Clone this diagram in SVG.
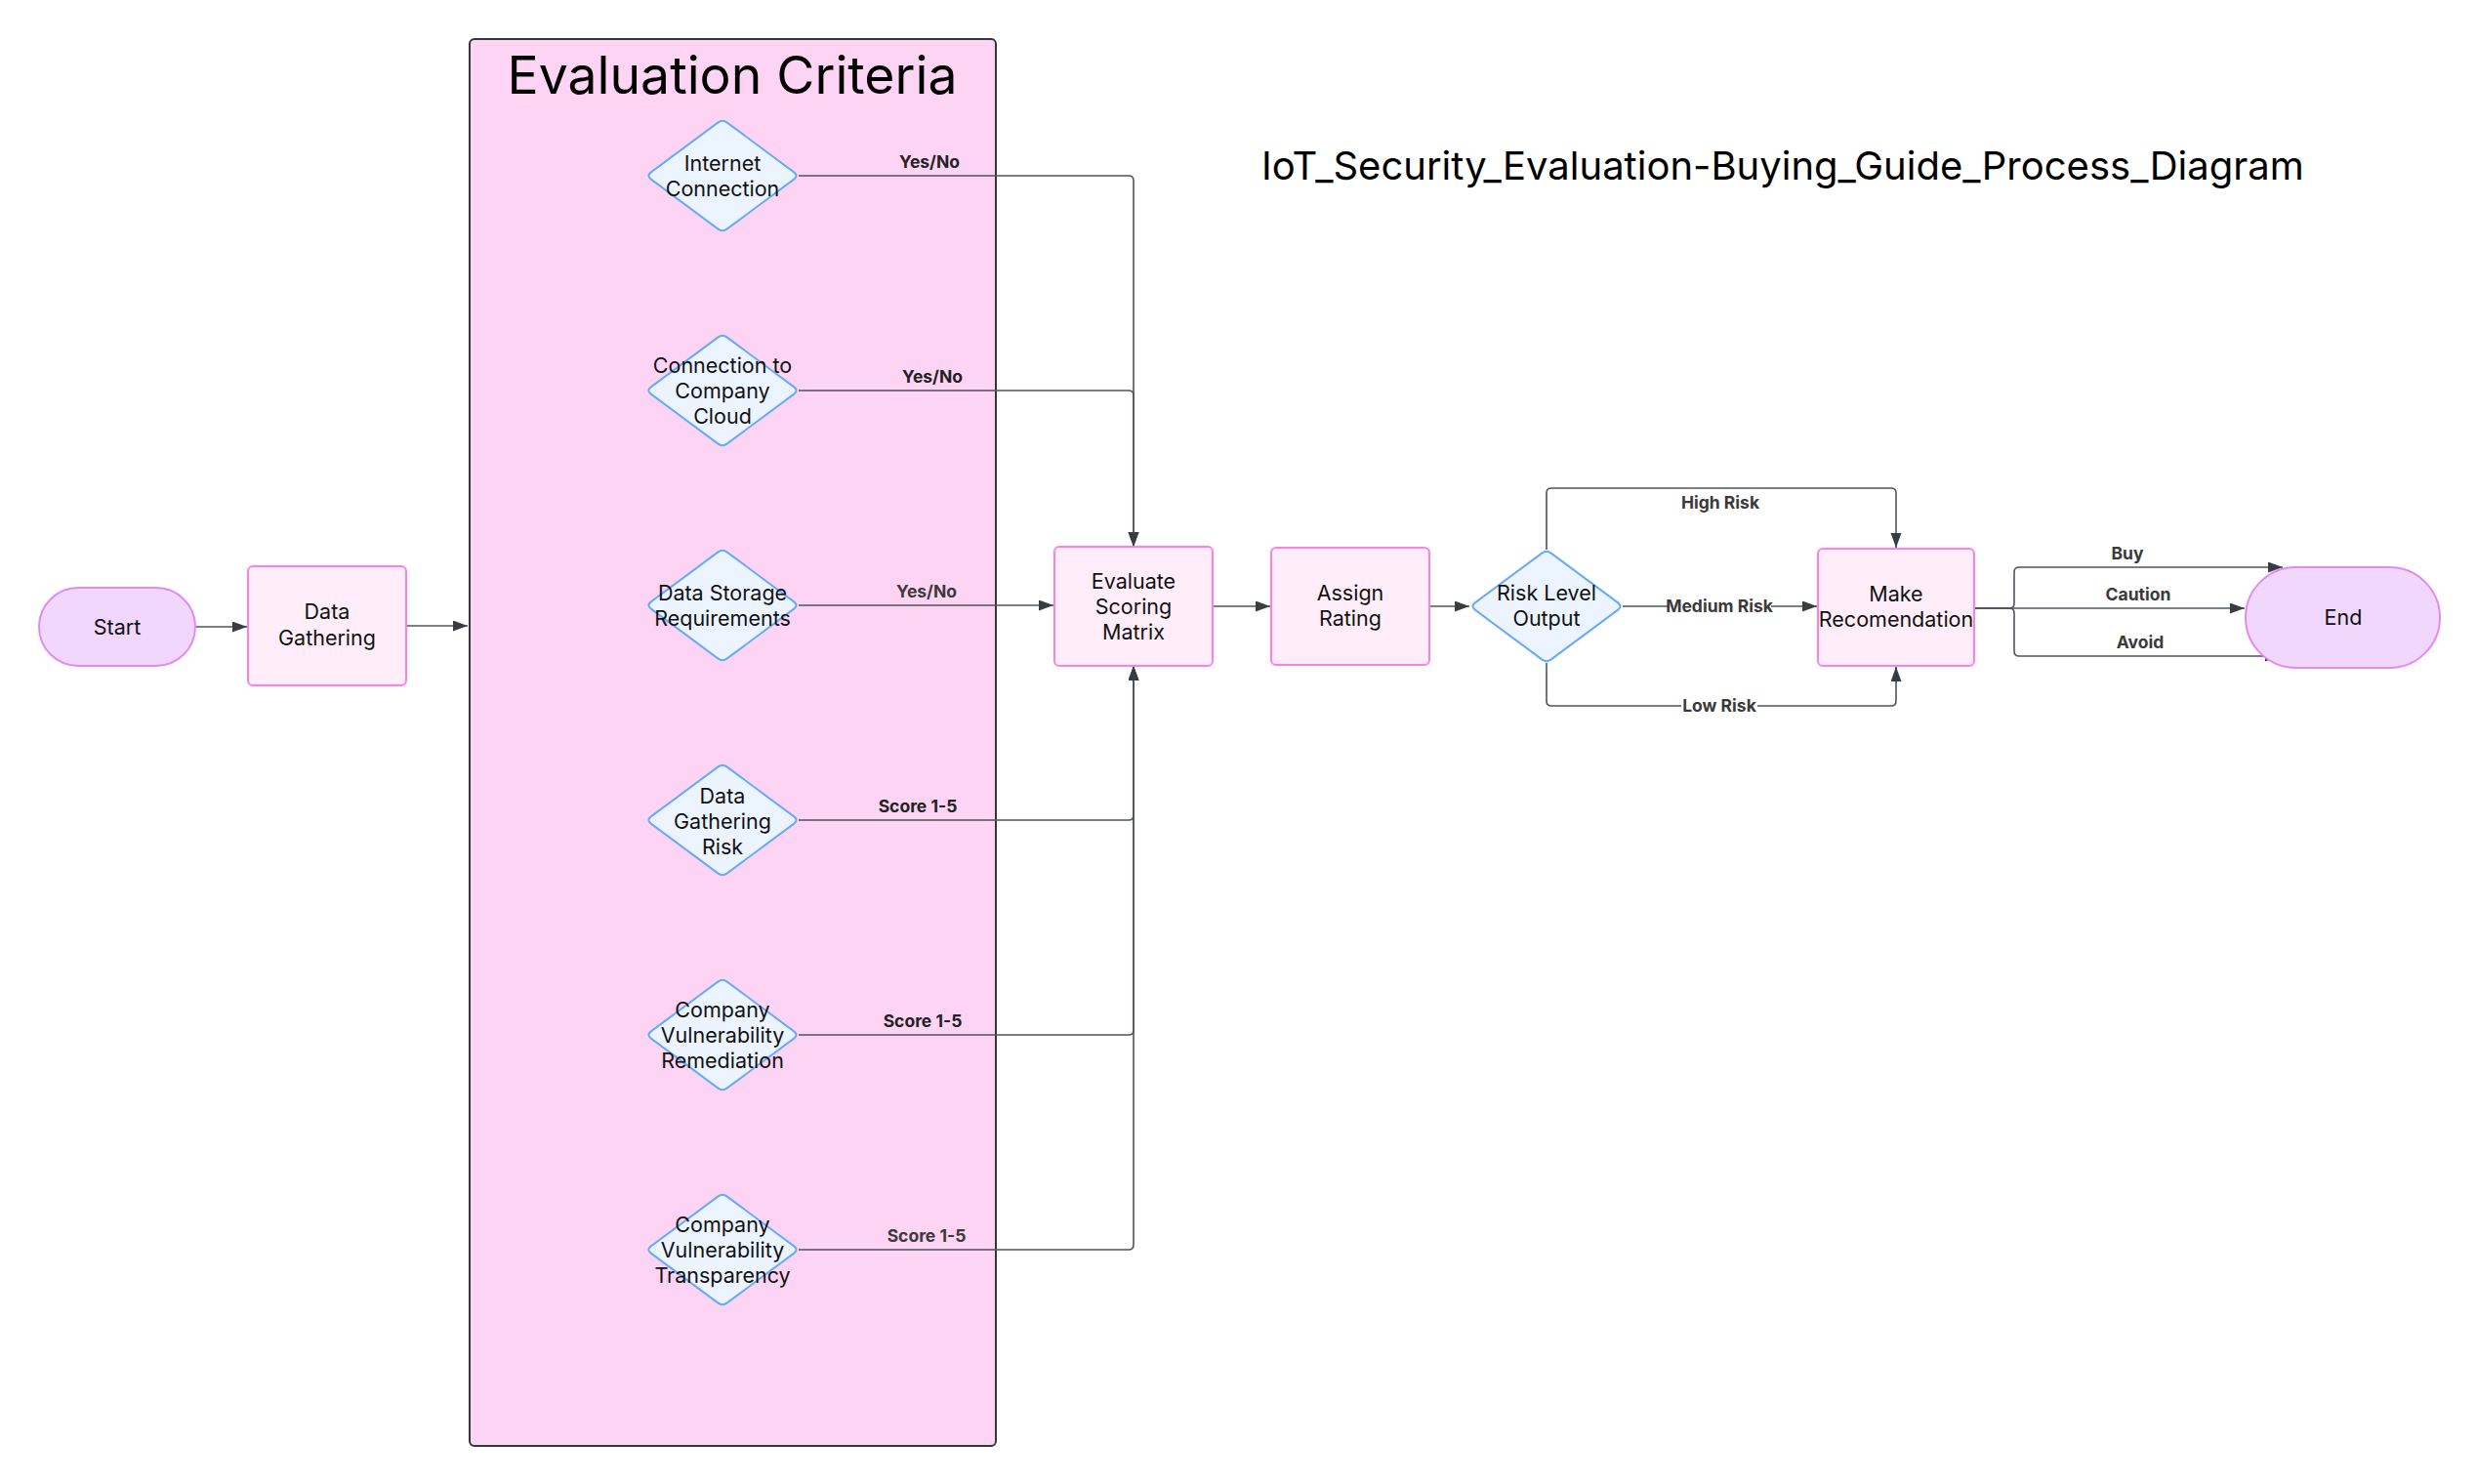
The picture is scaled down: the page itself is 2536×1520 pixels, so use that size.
<svg xmlns="http://www.w3.org/2000/svg" xmlns:xlink="http://www.w3.org/1999/xlink" width="2536" height="1520" viewBox="0 0 2536 1520">
<style>
  text { font-family: Inter, "Noto Sans", "Liberation Sans", sans-serif; }
  .nt { font-size: 21.5px; fill: #111; text-anchor: middle; }
  .lbl { font-size: 17.5px; font-weight: 700; fill: #222; text-anchor: middle; }
  .lbl2 { font-size: 17.5px; font-weight: 700; fill: #3a3a3a; text-anchor: middle; }
  .proc { fill: #ffeefa; stroke: #ff80e1; stroke-width: 2; }
  .term { fill: #f2d7fd; stroke: #df8bf7; stroke-width: 2; }
  .dec { fill: #ebf4ff; stroke: #67abf5; stroke-width: 2; }
  .edge { fill: none; stroke: #50555c; stroke-width: 1.6; }
  .lblbg { fill: #ffffff; }
</style>
<defs>
  <marker id="arr" markerUnits="userSpaceOnUse" markerWidth="16" markerHeight="12" refX="15" refY="5.5" orient="auto">
    <path d="M0,0 L15,5.5 L0,11 Z" fill="#383d44"/>
  </marker>
  <path id="dia" d="M-73.2,-3.6 L-4.8,-54.4 Q0,-58 4.8,-54.4 L73.2,-3.6 Q78,0 73.2,3.6 L4.8,54.4 Q0,58 -4.8,54.4 L-73.2,3.6 Q-78,0 -73.2,-3.6 Z"/>
</defs>
<rect width="2536" height="1520" fill="#ffffff"/>

<g id="title">
  <text x="1292" y="184" style="font-size:40px; fill:#000;">IoT_Security_Evaluation-Buying_Guide_Process_Diagram</text>
</g>

<g id="cluster-evaluation-criteria">
  <rect x="481" y="40" width="539" height="1441" rx="5" fill="#fed4f5" stroke="#33363b" stroke-width="2"/>
  <text x="750" y="96" style="font-size:53.5px; fill:#000; text-anchor:middle;">Evaluation Criteria</text>
</g>

<g id="connectors">
  <path class="edge" d="M200,642 H253" marker-end="url(#arr)"/>
  <path class="edge" d="M416,641 H479" marker-end="url(#arr)"/>
  <path class="edge" d="M818,180 H1156 Q1161,180 1161,185 V560" marker-end="url(#arr)"/>
  <path class="edge" d="M818,400 H1156 Q1161,400 1161,405 V560" marker-end="url(#arr)"/>
  <path class="edge" d="M818,620 H1079" marker-end="url(#arr)"/>
  <path class="edge" d="M818,840 H1156 Q1161,840 1161,835 V682" marker-end="url(#arr)"/>
  <path class="edge" d="M818,1060 H1156 Q1161,1060 1161,1055 V682" marker-end="url(#arr)"/>
  <path class="edge" d="M818,1280 H1156 Q1161,1280 1161,1275 V682" marker-end="url(#arr)"/>
  <path class="edge" d="M1242,621 H1301" marker-end="url(#arr)"/>
  <path class="edge" d="M1464,621 H1505" marker-end="url(#arr)"/>
  <path class="edge" d="M1584,563 V505 Q1584,500 1589,500 H1937 Q1942,500 1942,505 V561" marker-end="url(#arr)"/>
  <path class="edge" d="M1662,621 H1861" marker-end="url(#arr)"/>
  <path class="edge" d="M1584,679 V718 Q1584,723 1589,723 H1937 Q1942,723 1942,718 V683" marker-end="url(#arr)"/>
  <path class="edge" d="M2022,623 H2058 Q2063,623 2063,618 V586 Q2063,581 2068,581 H2338" marker-end="url(#arr)"/>
  <path class="edge" d="M2022,623 H2299" marker-end="url(#arr)"/>
  <path class="edge" d="M2022,623 H2058 Q2063,623 2063,628 V667 Q2063,672 2068,672 H2335" marker-end="url(#arr)"/>

  <text class="lbl" x="952" y="172">Yes/No</text>
  <text class="lbl" x="955" y="392">Yes/No</text>
  <text class="lbl2" x="949" y="612">Yes/No</text>
  <text class="lbl" x="940" y="832">Score 1-5</text>
  <text class="lbl" x="945" y="1052">Score 1-5</text>
  <text class="lbl2" x="949" y="1272">Score 1-5</text>
  <text class="lbl2" x="1762" y="521">High Risk</text>
  <rect class="lblbg" x="1710" y="610" width="104" height="22"/>
  <text class="lbl2" x="1761" y="627">Medium Risk</text>
  <rect class="lblbg" x="1722" y="712" width="78" height="22"/>
  <text class="lbl2" x="1761" y="729">Low Risk</text>
  <text class="lbl2" x="2179" y="573">Buy</text>
  <text class="lbl2" x="2190" y="615">Caution</text>
  <text class="lbl2" x="2192" y="664">Avoid</text>
</g>

<g id="node-start">
  <rect class="term" x="40" y="602" width="160" height="80" rx="40"/>
  <text class="nt" x="120" y="650">Start</text>
</g>

<g id="node-data-gathering">
  <rect class="proc" x="254" y="580" width="162" height="122" rx="5"/>
  <text class="nt" x="335" y="634">Data</text>
  <text class="nt" x="335" y="661">Gathering</text>
</g>

<g id="node-internet-connection">
  <use href="#dia" xlink:href="#dia" class="dec" x="740" y="180"/>
  <text class="nt" x="740" y="175">Internet</text>
  <text class="nt" x="740" y="201">Connection</text>
</g>

<g id="node-connection-cloud">
  <use href="#dia" xlink:href="#dia" class="dec" x="740" y="400"/>
  <text class="nt" x="740" y="382">Connection to</text>
  <text class="nt" x="740" y="408">Company</text>
  <text class="nt" x="740" y="434">Cloud</text>
</g>

<g id="node-data-storage">
  <use href="#dia" xlink:href="#dia" class="dec" x="740" y="620"/>
  <text class="nt" x="740" y="615">Data Storage</text>
  <text class="nt" x="740" y="641">Requirements</text>
</g>

<g id="node-data-gathering-risk">
  <use href="#dia" xlink:href="#dia" class="dec" x="740" y="840"/>
  <text class="nt" x="740" y="823">Data</text>
  <text class="nt" x="740" y="849">Gathering</text>
  <text class="nt" x="740" y="875">Risk</text>
</g>

<g id="node-vuln-remediation">
  <use href="#dia" xlink:href="#dia" class="dec" x="740" y="1060"/>
  <text class="nt" x="740" y="1042">Company</text>
  <text class="nt" x="740" y="1068">Vulnerability</text>
  <text class="nt" x="740" y="1094">Remediation</text>
</g>

<g id="node-vuln-transparency">
  <use href="#dia" xlink:href="#dia" class="dec" x="740" y="1280"/>
  <text class="nt" x="740" y="1262">Company</text>
  <text class="nt" x="740" y="1288">Vulnerability</text>
  <text class="nt" x="740" y="1314">Transparency</text>
</g>

<g id="node-evaluate">
  <rect class="proc" x="1080" y="560" width="162" height="122" rx="5"/>
  <text class="nt" x="1161" y="603">Evaluate</text>
  <text class="nt" x="1161" y="629">Scoring</text>
  <text class="nt" x="1161" y="655">Matrix</text>
</g>

<g id="node-assign-rating">
  <rect class="proc" x="1302" y="561" width="162" height="120" rx="5"/>
  <text class="nt" x="1383" y="615">Assign</text>
  <text class="nt" x="1383" y="641">Rating</text>
</g>

<g id="node-risk-level">
  <use href="#dia" xlink:href="#dia" class="dec" x="1584" y="621"/>
  <text class="nt" x="1584" y="615">Risk Level</text>
  <text class="nt" x="1584" y="641">Output</text>
</g>

<g id="node-make-recommendation">
  <rect class="proc" x="1862" y="562" width="160" height="120" rx="5"/>
  <text class="nt" x="1942" y="616">Make</text>
  <text class="nt" x="1942" y="642">Recomendation</text>
</g>

<g id="node-end">
  <rect class="term" x="2300" y="581" width="199" height="103" rx="51.5"/>
  <text class="nt" x="2400" y="640">End</text>
</g>
</svg>
